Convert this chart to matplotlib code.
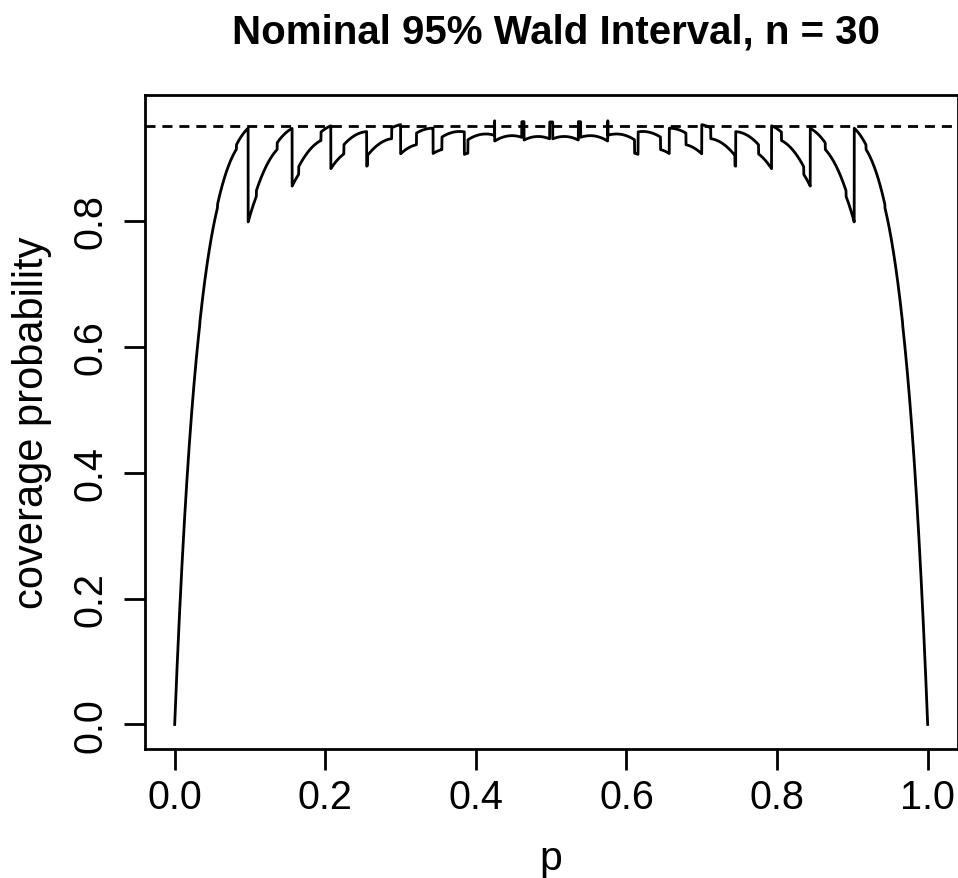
import math
import numpy as np
import matplotlib
matplotlib.use('Agg')
import matplotlib.pyplot as plt

# chart inputs
n = 30
nominal = 0.95
z = 1.959964
p_grid = np.arange(0, 10001) / 10000.0
x_ticks = [0.0, 0.2, 0.4, 0.6, 0.8, 1.0]
y_ticks = [0.0, 0.2, 0.4, 0.6, 0.8]

# Wald interval for each count of successes, then exact coverage at each p
k = np.arange(n + 1)
phat = k / n
half = z * np.sqrt(phat * (1 - phat) / n)
lower = phat - half
upper = phat + half
choose = np.array([math.comb(n, i) for i in k], dtype=float)

P = p_grid[:, None]
pmf = choose * P ** k * (1 - P) ** (n - k)
inside = (lower < P) & (upper > P)
coverage = (pmf * inside).sum(axis=1)

plt.rcParams['font.family'] = ['Liberation Sans', 'DejaVu Sans']
fig = plt.figure(figsize=(9.58, 8.79), dpi=100)
ax = fig.add_axes([0.1509, 0.1471, 0.8489, 0.7437])

ax.plot(p_grid, coverage, color='black', lw=2.0)
ax.axhline(nominal, color='black', lw=2.0, linestyle=(0, (3.6, 2.5)))

ax.set_xlim(-0.04, 1.04)
ax.set_ylim(-0.0385, 1.0)
ax.set_xticks(x_ticks)
ax.set_xticklabels(['%.1f' % v for v in x_ticks])
ax.set_yticks(y_ticks)
ax.set_yticklabels(['%.1f' % v for v in y_ticks], rotation=90, va='center')
for s in ax.spines.values():
    s.set_linewidth(2.0)
ax.tick_params(length=15, width=2.0, labelsize=28.5)
ax.tick_params(axis='x', pad=6)
ax.tick_params(axis='y', pad=10)

ax.set_xlabel('p', fontsize=29.5, labelpad=17)
ax.set_ylabel('coverage probability', fontsize=30, labelpad=14)
fig.text(0.5799, 1 - 43 / 879, 'Nominal 95% Wald Interval, n = 30', ha='center', va='baseline',
         fontsize=29, fontweight='bold')

fig.savefig('out.png', dpi=100)
